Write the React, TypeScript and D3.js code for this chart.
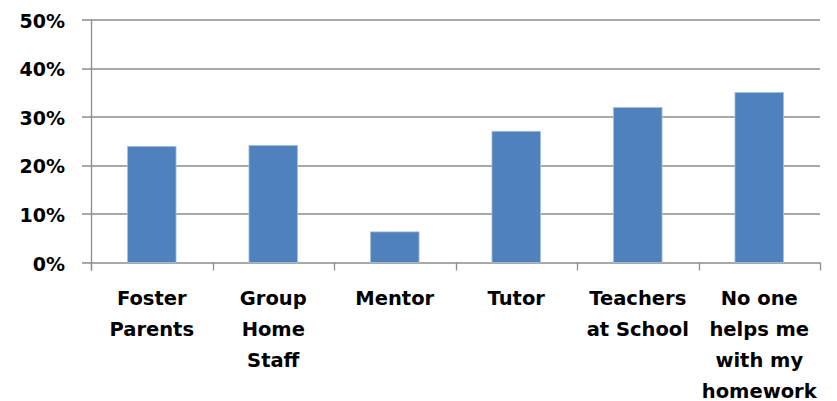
import React, { useEffect, useRef } from "react";
import * as d3 from "d3";

const categories = [
  "Foster\nParents",
  "Group\nHome\nStaff",
  "Mentor",
  "Tutor",
  "Teachers\nat School",
  "No one\nhelps me\nwith my\nhomework",
];
const values = [23.9, 24.1, 6.3, 27.0, 31.9, 35.0];
const yTicks = [0, 10, 20, 30, 40, 50];

const width = 837;
const height = 401;
const margin = { top: 19.5, right: 17, bottom: 138.5, left: 91 };

export default function App() {
  const ref = useRef<SVGSVGElement>(null);

  useEffect(() => {
    const svg = d3.select(ref.current);
    svg.selectAll("*").remove();
    const innerWidth = width - margin.left - margin.right;
    const innerHeight = height - margin.top - margin.bottom;
    const font = "'DejaVu Sans', sans-serif";
    const grey = "#8c8c8c";

    const xScale = d3.scaleBand().domain(categories).range([0, innerWidth]).paddingInner(0.6).paddingOuter(0.3);
    const yScale = d3.scaleLinear().domain([0, 50]).range([innerHeight, 0]);

    const g = svg.append("g").attr("transform", `translate(${margin.left}, ${margin.top})`);

    // gridlines
    g.selectAll("line.grid").data(yTicks).enter()
      .append("line")
      .attr("x1", -9)
      .attr("x2", innerWidth)
      .attr("y1", d => Math.round(yScale(d)) + 0.5)
      .attr("y2", d => Math.round(yScale(d)) + 0.5)
      .attr("stroke", grey)
      .attr("stroke-width", 1.3);

    // y tick labels
    g.selectAll("text.ytick").data(yTicks).enter()
      .append("text")
      .attr("x", -26)
      .attr("y", d => yScale(d) + 8)
      .attr("text-anchor", "end")
      .style("font-family", font)
      .style("font-weight", "bold")
      .style("font-size", "19px")
      .attr("fill", "#000")
      .text(d => `${d}%`);

    // bars
    g.selectAll("rect").data(categories).enter()
      .append("rect")
      .attr("x", d => xScale(d)!)
      .attr("y", (d, i) => yScale(values[i]))
      .attr("width", xScale.bandwidth())
      .attr("height", (d, i) => innerHeight - yScale(values[i]))
      .attr("fill", "#4f81bd")
      .attr("stroke", "#a9c1df")
      .attr("stroke-width", 0.8);

    // y axis line
    g.append("line")
      .attr("x1", 0.5).attr("x2", 0.5)
      .attr("y1", yScale(50)).attr("y2", innerHeight + 8)
      .attr("stroke", grey).attr("stroke-width", 1.3);

    // x axis ticks at band boundaries
    const step = xScale.step();
    const bounds = d3.range(categories.length + 1).map(i => i * step);
    g.selectAll("line.xtick").data(bounds).enter()
      .append("line")
      .attr("x1", d => Math.round(d) + 0.5)
      .attr("x2", d => Math.round(d) + 0.5)
      .attr("y1", innerHeight)
      .attr("y2", innerHeight + 8)
      .attr("stroke", grey)
      .attr("stroke-width", 1.3);

    // category labels
    const labels = g.selectAll("text.xlabel").data(categories).enter()
      .append("text")
      .attr("text-anchor", "middle")
      .attr("transform", d => `translate(${xScale(d)! + xScale.bandwidth() / 2}, ${innerHeight + 42})`)
      .style("font-family", font)
      .style("font-weight", "bold")
      .style("font-size", "19.5px")
      .attr("fill", "#000");
    labels.selectAll("tspan").data(d => d.split("\n")).enter()
      .append("tspan")
      .attr("x", 0)
      .attr("y", (d, i) => i * 31)
      .text(d => d);
  }, []);

  return (
    <svg ref={ref} width={width} height={height}
      style={{ position: "absolute", left: 0, top: 0, background: "#fff" }} />
  );
}
